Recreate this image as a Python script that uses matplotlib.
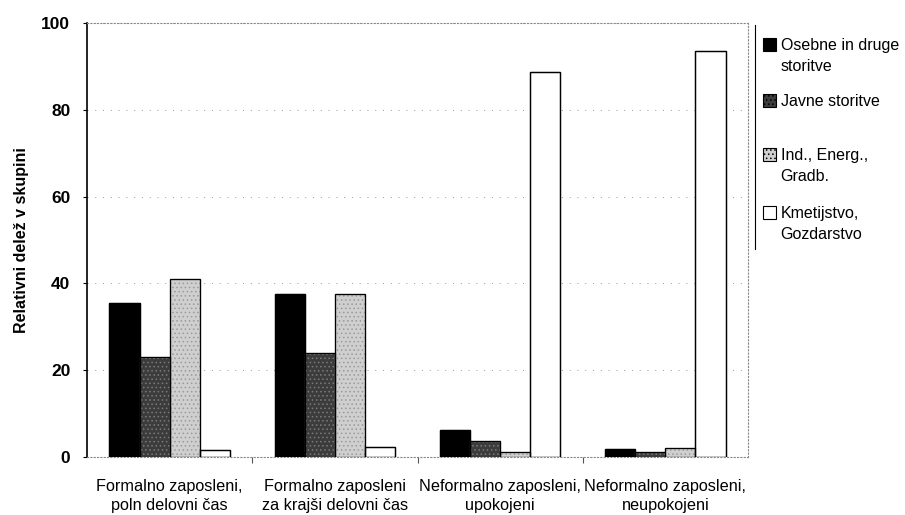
import matplotlib
matplotlib.use("Agg")
import matplotlib.pyplot as plt
import numpy as np
from matplotlib.lines import Line2D
from matplotlib.patches import Rectangle
from matplotlib.legend_handler import HandlerPatch

plt.rcParams['font.family'] = ['Liberation Sans', 'DejaVu Sans']
plt.rcParams['hatch.linewidth'] = 0.6

categories = ["Formalno zaposleni,\npoln delovni čas",
              "Formalno zaposleni\nza krajši delovni čas",
              "Neformalno zaposleni,\nupokojeni",
              "Neformalno zaposleni,\nneupokojeni"]
series_names = ["Osebne in druge\nstoritve", "Javne storitve",
                "Ind., Energ.,\nGradb.", "Kmetijstvo,\nGozdarstvo"]
osebne = [35.4, 37.5, 6.2, 1.9]
javne = [23.1, 24.0, 3.8, 1.1]
industrija = [40.9, 37.6, 1.2, 2.1]
kmetijstvo = [1.6, 2.2, 88.7, 93.5]
yticks = [0, 20, 40, 60, 80, 100]

series = [osebne, javne, industrija, kmetijstvo]
colors = ["#000000", "#3c3c3c", "#cfcfcf", "#ffffff"]
hatches = [None, "....", "....", None]
hatch_colors = ["black", "#7a7a7a", "#9a9a9a", "black"]

fig = plt.figure(figsize=(9.05, 5.15), dpi=100)
ax = fig.add_axes([87/905, 1-457/515, 661/905, 434/515])

x = np.arange(len(categories))
w = 0.182
offsets = (np.arange(4) - 1.5) * w
for i, vals in enumerate(series):
    ax.bar(x + offsets[i], vals, width=w, color=colors[i], edgecolor=hatch_colors[i],
           linewidth=0.9, hatch=hatches[i], label=series_names[i], zorder=3)
    ax.bar(x + offsets[i], vals, width=w, fill=False, edgecolor="black", linewidth=0.9, zorder=4)

ax.set_xlim(-0.5, 3.5)
ax.set_ylim(0, 100)
ax.set_yticks(yticks)
ax.set_yticklabels([str(t) for t in yticks], fontsize=12.5, fontweight="bold")
ax.set_xticks(x)
ax.set_xticklabels(categories, fontsize=11.7, linespacing=1.3)
ax.tick_params(axis="x", length=0, pad=16)
ax.set_xticks([0.5, 1.5, 2.5], minor=True)
ax.tick_params(axis="x", which="minor", length=4, width=0.8, color="#555555")
ax.tick_params(axis="y", length=3, width=0.8, pad=9)

ax.yaxis.grid(True, linestyle=(0, (1, 7)), color="#999999", linewidth=0.7, zorder=0)
ax.set_axisbelow(True)
for s in ["top", "right", "bottom"]:
    ax.spines[s].set_linestyle((0, (1, 2)))
    ax.spines[s].set_color("#888888")
    ax.spines[s].set_linewidth(0.8)
ax.spines["left"].set_linewidth(1.2)

ax.set_ylabel("Relativni delež v skupini", fontsize=11.5, fontweight="bold", labelpad=9)

legend_fs = 11.5
line_pts = 12 * 72 / 100.0


def make_handler(nlines):
    shift = (nlines - 1) * line_pts

    def patch_func(legend, orig_handle, xdescent, ydescent, width, height, fontsize):
        return Rectangle((-xdescent, -ydescent + shift), width, height)
    return HandlerPatch(patch_func=patch_func)


legend_tops = [38, 94, 148, 206]
for i in range(4):
    h = Rectangle((0, 0), 1, 1, facecolor=colors[i], edgecolor="black",
                  hatch=hatches[i], linewidth=0.8)
    nlines = series_names[i].count("\n") + 1
    leg = fig.legend([h], [series_names[i]], loc="upper left",
                     bbox_to_anchor=(763/905, 1-legend_tops[i]/515), frameon=False,
                     fontsize=legend_fs, handlelength=0.8, handleheight=0.8,
                     handletextpad=0.3, borderpad=0, borderaxespad=0,
                     handler_map={Rectangle: make_handler(nlines)})
    for t in leg.get_texts():
        t.set_linespacing(1.5)

fig.add_artist(Line2D([755/905, 755/905], [1-25/515, 1-249/515], color="black",
                      linewidth=0.8, transform=fig.transFigure))

fig.savefig("out.png", dpi=100)
